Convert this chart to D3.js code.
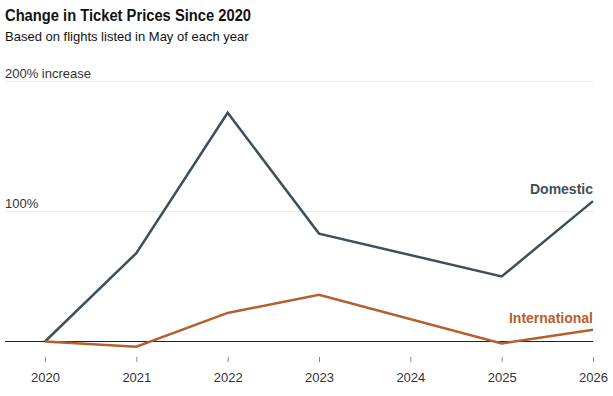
<!DOCTYPE html>
<html>
<head>
<meta charset="utf-8">
<script src="https://cdn.jsdelivr.net/npm/d3@7"></script>
<style>
  body { margin: 0; background: #fff; }
  svg { font-family: "Liberation Sans", Arial, sans-serif; }
</style>
</head>
<body>
<div id="chart"></div>
<script>
// Data
const years = [2020, 2021, 2022, 2023, 2025, 2026];
const domestic = [0, 68, 176, 83, 50, 108];
const international = [0, -4, 22, 36, -1.5, 9];
const tickYears = [2020, 2021, 2022, 2023, 2024, 2025, 2026];
const gridValues = [100, 200];
const gridLabels = ["100%", "200% increase"];

const width = 613;
const height = 396;

const svg = d3.select("#chart")
    .append("svg")
    .attr("width", width)
    .attr("height", height);

const x = d3.scaleLinear()
    .domain([2020, 2026])
    .range([45, 593]);

const y = d3.scaleLinear()
    .domain([0, 200])
    .range([341.5, 81.5]);

// title
svg.append("text")
    .attr("x", 5).attr("y", 21)
    .attr("font-size", 16).attr("font-weight", "bold")
    .attr("fill", "#121212")
    .attr("textLength", 246)
    .attr("lengthAdjust", "spacingAndGlyphs")
    .text("Change in Ticket Prices Since 2020");

svg.append("text")
    .attr("x", 5).attr("y", 41)
    .attr("font-size", 13)
    .attr("fill", "#121212")
    .text("Based on flights listed in May of each year");

// gridlines
svg.selectAll(".grid")
    .data(gridValues)
    .enter()
    .append("line")
    .attr("x1", 5).attr("x2", 593)
    .attr("y1", d => y(d)).attr("y2", d => y(d))
    .attr("stroke", "#ebebeb");

svg.selectAll(".gridlabel")
    .data(gridValues)
    .enter()
    .append("text")
    .attr("x", 5)
    .attr("y", d => y(d) - 3.5)
    .attr("font-size", 13)
    .attr("fill", "#333")
    .text((d, i) => gridLabels[i]);

// x axis
const xAxis = svg.append("g")
    .attr("transform", "translate(0,357)")
    .call(d3.axisBottom(x)
        .tickValues(tickYears)
        .tickFormat(d3.format("d"))
        .tickSize(5)
        .tickPadding(11));
xAxis.select(".domain").remove();
xAxis.selectAll("line").attr("stroke", "#888");
xAxis.selectAll("text")
    .attr("font-size", 13)
    .attr("fill", "#333")
    .attr("font-family", "Liberation Sans, Arial, sans-serif");

// baseline
svg.append("line")
    .attr("x1", 5).attr("x2", 593)
    .attr("y1", y(0)).attr("y2", y(0))
    .attr("stroke", "#222");

const line = d3.line()
    .x(d => x(d[0]))
    .y(d => y(d[1]));

const series = [
    { name: "Domestic", values: domestic, color: "#3f4f5a" },
    { name: "International", values: international, color: "#b5602c" }
];

svg.selectAll(".series")
    .data(series)
    .enter()
    .append("path")
    .attr("d", s => line(years.map((yr, i) => [yr, s.values[i]])))
    .attr("fill", "none")
    .attr("stroke", s => s.color)
    .attr("stroke-width", 2.5)
    .attr("stroke-linejoin", "miter");

// series labels
svg.append("text")
    .attr("x", 593).attr("y", 194)
    .attr("text-anchor", "end")
    .attr("font-size", 14).attr("font-weight", "bold")
    .attr("fill", series[0].color)
    .text("Domestic");

svg.append("text")
    .attr("x", 593).attr("y", 323)
    .attr("text-anchor", "end")
    .attr("font-size", 14).attr("font-weight", "bold")
    .attr("fill", series[1].color)
    .text("International");
</script>
</body>
</html>
